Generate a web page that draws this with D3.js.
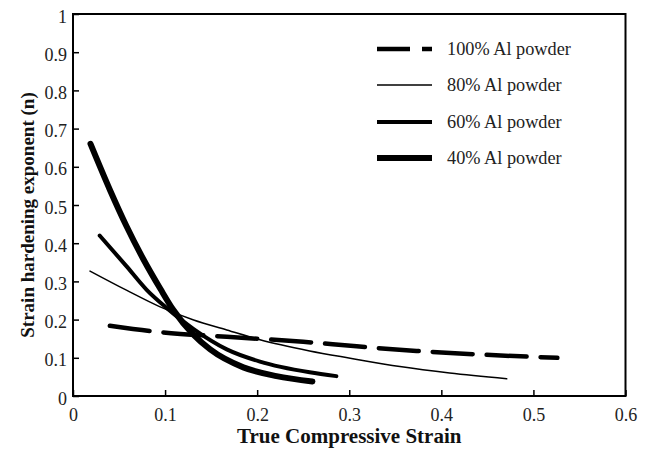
<!DOCTYPE html>
<html><head><meta charset="utf-8">
<script src="https://cdn.jsdelivr.net/npm/d3@7"></script>
<style>body{margin:0;background:#fff} svg{display:block}</style>
</head><body>
<svg id="chart" width="646" height="451"></svg>
<script>
// ---- data ----
const seriesNames = ["100% Al powder", "80% Al powder", "60% Al powder", "40% Al powder"];

const strain100 = [0.040, 0.092, 0.167, 0.250, 0.308, 0.373, 0.438, 0.526];
const n100      = [0.184, 0.168, 0.155, 0.142, 0.130, 0.118, 0.109, 0.100];

const strain80 = [0.0185, 0.058, 0.094, 0.131, 0.167, 0.203, 0.257, 0.301, 0.355, 0.409, 0.471];
const n80      = [0.327, 0.277, 0.234, 0.199, 0.173, 0.147, 0.118, 0.099, 0.077, 0.060, 0.045];

const strain60 = [0.029, 0.058, 0.080, 0.102, 0.131, 0.167, 0.203, 0.257, 0.286];
const n60      = [0.420, 0.340, 0.278, 0.230, 0.175, 0.122, 0.090, 0.062, 0.052];

const strain40 = [0.019, 0.040, 0.058, 0.076, 0.095, 0.109, 0.131, 0.149, 0.185, 0.221, 0.260];
const n40      = [0.660, 0.540, 0.445, 0.360, 0.280, 0.225, 0.160, 0.122, 0.075, 0.052, 0.038];

const xTickValues = [0, 0.1, 0.2, 0.3, 0.4, 0.5, 0.6];
const xTickLabels = ["0", "0.1", "0.2", "0.3", "0.4", "0.5", "0.6"];
const yTickValues = [0, 0.1, 0.2, 0.3, 0.4, 0.5, 0.6, 0.7, 0.8, 0.9, 1];
const yTickLabels = ["0", "0.1", "0.2", "0.3", "0.4", "0.5", "0.6", "0.7", "0.8", "0.9", "1"];

const xTitle = "True Compressive Strain";
const yTitle = "Strain hardening exponent (n)";

// ---- styling ----
const seriesData = [
  {name: seriesNames[0], xs: strain100, ys: n100, width: 4.5, dash: "40,14"},
  {name: seriesNames[1], xs: strain80,  ys: n80,  width: 1.5, dash: null},
  {name: seriesNames[2], xs: strain60,  ys: n60,  width: 4,   dash: null},
  {name: seriesNames[3], xs: strain40,  ys: n40,  width: 6,   dash: null}
];

const font = "'Liberation Serif', 'Times New Roman', serif";
const svg = d3.select("#chart");
const pLeft = 73, pRight = 625.5, pTop = 14, pBottom = 396;

const x = d3.scaleLinear().domain([0, 0.6]).range([pLeft, pRight]);
const y = d3.scaleLinear().domain([0, 1]).range([pBottom, pTop]);

// axes
const xAxis = d3.axisBottom(x).tickValues(xTickValues)
  .tickFormat((d, i) => xTickLabels[i]).tickSizeInner(-6).tickSizeOuter(0).tickPadding(12);
const yAxis = d3.axisLeft(y).tickValues(yTickValues)
  .tickFormat((d, i) => yTickLabels[i]).tickSizeInner(-6).tickSizeOuter(0).tickPadding(6);

const gx = svg.append("g").attr("transform", `translate(0,${pBottom})`).call(xAxis);
const gy = svg.append("g").attr("transform", `translate(${pLeft},0)`).call(yAxis);
[gx, gy].forEach(g => {
  g.select(".domain").remove();
  g.selectAll(".tick line").attr("stroke", "#000").attr("stroke-width", 1.5);
  g.selectAll(".tick text").attr("font-family", font).attr("font-size", 18).attr("fill", "#222");
});
gy.selectAll(".tick text").attr("dy", "0.45em");

// frame
svg.append("rect").attr("x", pLeft).attr("y", pTop)
  .attr("width", pRight - pLeft).attr("height", pBottom - pTop)
  .attr("fill", "none").attr("stroke", "#000").attr("stroke-width", 2);

// curves
const line = d3.line().x(d => x(d[0])).y(d => y(d[1])).curve(d3.curveMonotoneX);
seriesData.forEach(s => {
  const pts = s.xs.map((v, i) => [v, s.ys[i]]);
  svg.append("path").datum(pts).attr("d", line)
    .attr("fill", "none").attr("stroke", "#000")
    .attr("stroke-width", s.width)
    .attr("stroke-dasharray", s.dash)
    .attr("stroke-linecap", "round");
});

// legend
const legY = [49, 85, 122, 158];
const lg = svg.append("g");
const legTexts = [];
seriesData.forEach((s, i) => {
  lg.append("line").attr("x1", 377).attr("x2", 432).attr("y1", legY[i]).attr("y2", legY[i])
    .attr("stroke", "#000").attr("stroke-width", s.width)
    .attr("stroke-dasharray", s.dash ? "33,12" : null);
  legTexts.push(lg.append("text").attr("x", 0).attr("y", 0).attr("dy", "0.35em")
    .attr("font-family", font).attr("font-size", 18).attr("fill", "#222").text(s.name));
});
const natural = legTexts[0].node().getComputedTextLength();
const sx = natural > 0 ? Math.min(1.2, Math.max(1, 124 / natural)) : 1;
legTexts.forEach((t, i) => t.attr("transform", `translate(447,${legY[i]}) scale(${sx},1)`));

// titles
svg.append("text").attr("x", (pLeft + pRight) / 2).attr("y", 443)
  .attr("text-anchor", "middle").attr("font-family", font).attr("font-weight", "bold")
  .attr("font-size", 21).attr("fill", "#111").text(xTitle);
svg.append("text").attr("transform", `translate(34,${(pTop + pBottom) / 2 + 10}) rotate(-90)`)
  .attr("text-anchor", "middle").attr("font-family", font).attr("font-weight", "bold")
  .attr("font-size", 19).attr("fill", "#111").text(yTitle);
</script>
</body></html>
